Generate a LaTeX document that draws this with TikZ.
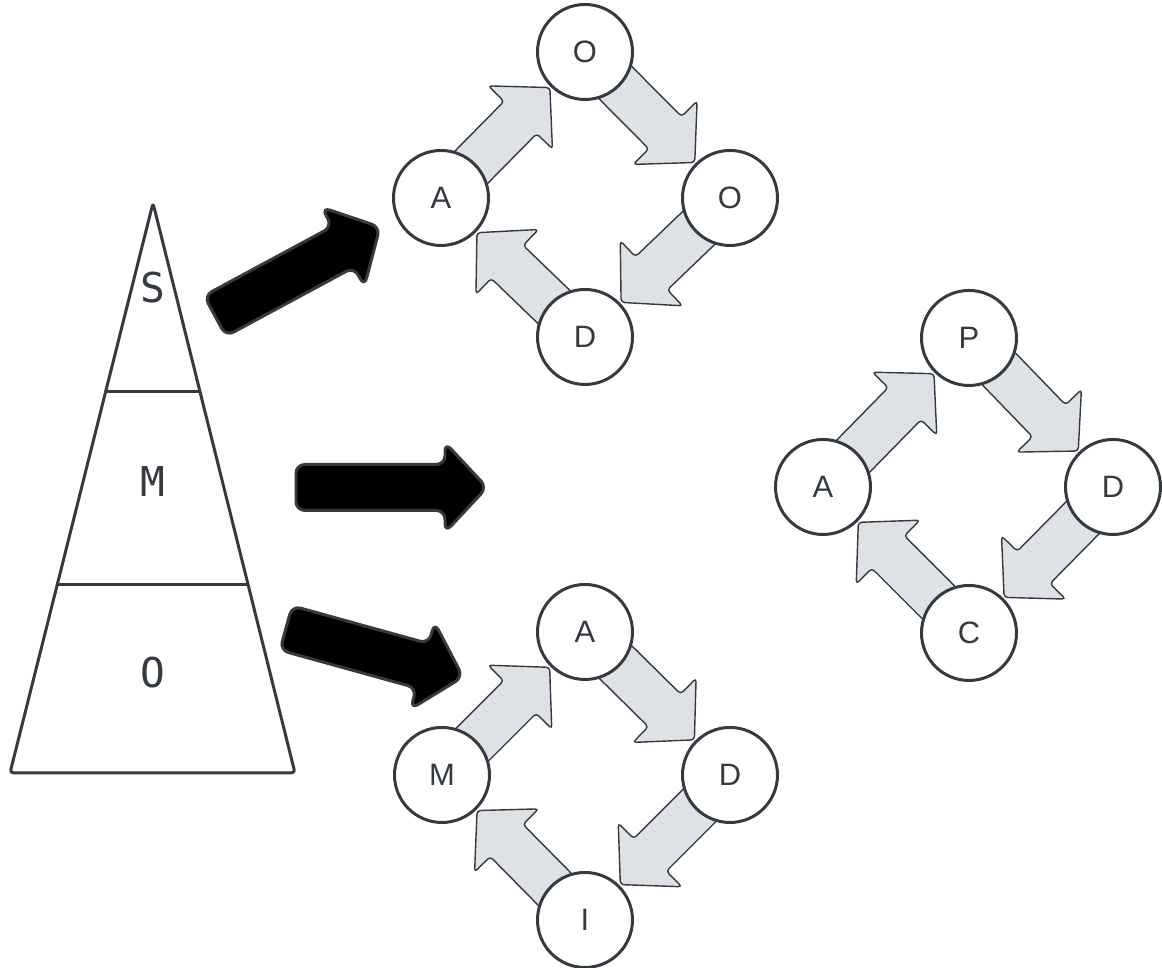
\documentclass[tikz,border=0pt]{standalone}
\usepackage{fontspec}
\setmainfont{Liberation Sans}
\newfontfamily\pyrfont{DejaVu Sans Mono}
\usetikzlibrary{positioning,calc,backgrounds}

\definecolor{inkgray}{HTML}{343A40}
\definecolor{paleblue}{HTML}{DEE1E6}

% block arrow from #2 (tail middle) to #3 (tip)
\newcommand{\blockarrow}[3][]{%
  \coordinate (ba-base) at ($(#3)!0.42cm!(#2)$);
  \draw[#1] ($(#2)!0.23cm!90:(#3)$) -- ($(ba-base)!0.23cm!90:(#3)$)
    -- ($(ba-base)!0.45cm!90:(#3)$) -- (#3)
    -- ($(ba-base)!0.45cm!-90:(#3)$) -- ($(ba-base)!0.23cm!-90:(#3)$)
    -- ($(#2)!0.23cm!-90:(#3)$) -- cycle;}
% arrow between two circles, tip on the rim of #2
\newcommand{\cyclestep}[2]{%
  \coordinate (cs-tip) at ($(#2)!0.50cm!(#1)$);
  \blockarrow[cycle arrow]{#1}{cs-tip}}

\begin{document}
\begin{tikzpicture}[node distance=1.45cm, on grid, line width=0.85pt, draw=inkgray,
                    cycle node/.style={circle,draw=inkgray,fill=white,minimum size=0.95cm,inner sep=0pt,
                                       text=inkgray,font=\fontsize{8.8}{9}\selectfont},
                    level label/.style={text=inkgray,font=\pyrfont\fontsize{11.7}{12}\selectfont},
                    cycle arrow/.style={draw=inkgray,fill=paleblue,rounded corners=1pt},
                    big arrow/.style={draw=inkgray,fill=black,rounded corners=2.5pt}]
  \useasboundingbox (0,0) rectangle (11.62,9.68);

  % pyramid
  \coordinate (apex) at (1.53,7.65);
  \coordinate (baseL) at (0.10,1.95);
  \coordinate (baseR) at (2.95,1.95);
  \draw[inkgray,line join=round,rounded corners=1pt] (apex) -- (baseR) -- (baseL) -- cycle;
  \draw[inkgray] ($(apex)!0.3316!(baseL)$) -- ($(apex)!0.3316!(baseR)$);
  \draw[inkgray] ($(apex)!0.6702!(baseL)$) -- ($(apex)!0.6702!(baseR)$);

  \node[level label] (pS) at (1.53,6.80) {S};
  \node[level label] (pM) at (1.53,4.86) {M};
  \node[level label] (pO) at (1.53,2.95) {O};

  % top cycle
  \node[cycle node] (tA) at (4.41,7.70) {A};
  \node[cycle node] (tO1) [above right=1.46cm and 1.44cm of tA] {O};
  \node[cycle node] (tO2) [below right=1.46cm and 1.45cm of tO1] {O};
  \node[cycle node] (tD) [below right=1.39cm and 1.44cm of tA] {D};

  % right cycle
  \node[cycle node] (rA) at (8.23,4.81) {A};
  \node[cycle node] (rP) [above right=1.49cm and 1.46cm of rA] {P};
  \node[cycle node] (rD) [below right=1.49cm and 1.44cm of rP] {D};
  \node[cycle node] (rC) [below right=1.46cm and 1.46cm of rA] {C};

  % bottom cycle
  \node[cycle node] (bM) at (4.42,1.93) {M};
  \node[cycle node] (bA) [above right=1.43cm and 1.43cm of bM] {A};
  \node[cycle node] (bD) [below right=1.43cm and 1.45cm of bA] {D};
  \node[cycle node] (bI) [below right=1.45cm and 1.43cm of bM] {I};

  % big arrows
  \coordinate (s-tail) at (2.15,6.52);
  \coordinate (s-tip) at (3.80,7.41);
  \coordinate (m-tail) at (2.96,4.805);
  \coordinate (m-tip) at (4.87,4.805);
  \coordinate (o-tail) at (2.86,3.40);
  \coordinate (o-tip) at (4.63,2.91);
  \blockarrow[big arrow]{s-tail}{s-tip}
  \blockarrow[big arrow]{m-tail}{m-tip}
  \blockarrow[big arrow]{o-tail}{o-tip}

  \begin{scope}[on background layer]
    \foreach \from/\to in {tA/tO1,tO1/tO2,tO2/tD,tD/tA,
                           rA/rP,rP/rD,rD/rC,rC/rA,
                           bM/bA,bA/bD,bD/bI,bI/bM}
      \cyclestep{\from}{\to};
  \end{scope}
\end{tikzpicture}
\end{document}
